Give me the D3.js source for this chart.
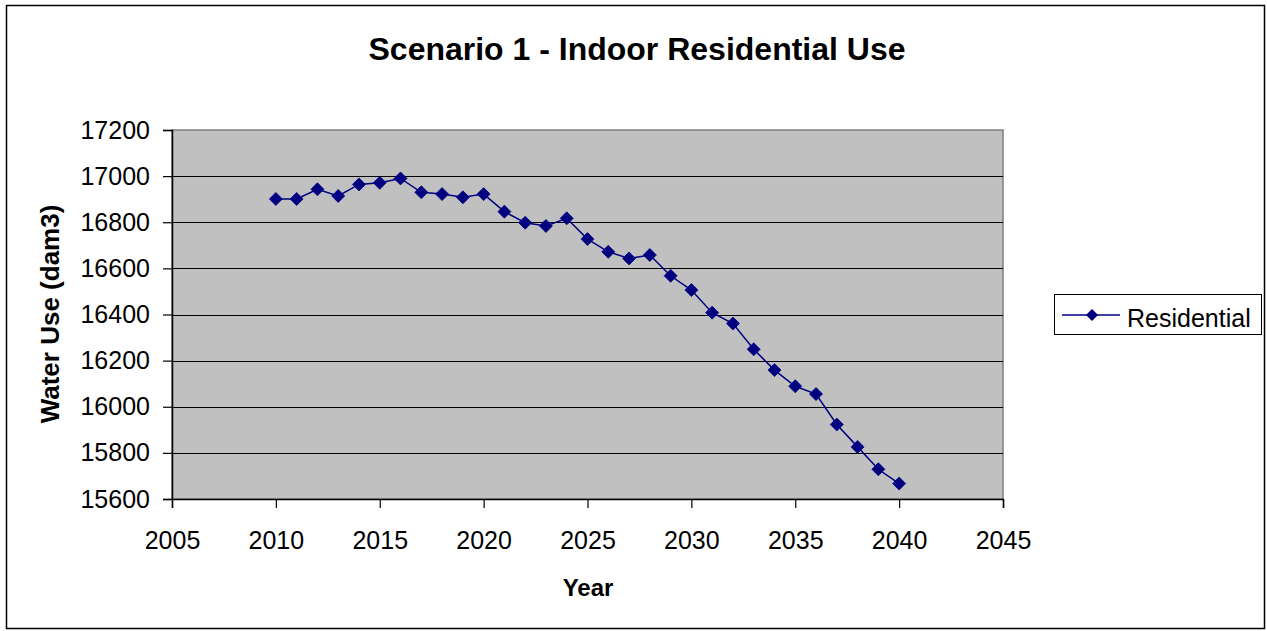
<!DOCTYPE html>
<html>
<head>
<meta charset="utf-8">
<script src="https://cdn.jsdelivr.net/npm/d3@7"></script>
<style>
  html, body { margin: 0; padding: 0; background: #fff; }
  svg { display: block; font-family: "Liberation Sans", Arial, sans-serif; }
</style>
</head>
<body>
<svg id="chart" width="1267" height="631"></svg>
<script>
// Indoor residential water use by year (dam3)
const years = [2010, 2011, 2012, 2013, 2014, 2015, 2016, 2017, 2018, 2019, 2020,
  2021, 2022, 2023, 2024, 2025, 2026, 2027, 2028, 2029, 2030,
  2031, 2032, 2033, 2034, 2035, 2036, 2037, 2038, 2039, 2040];
const residential = [16901, 16901, 16943, 16914, 16964, 16971, 16990, 16930, 16922, 16908, 16922,
  16846, 16798, 16784, 16817, 16727, 16672, 16643, 16658, 16568, 16506,
  16408, 16361, 16249, 16159, 16089, 16055, 15923, 15826, 15729, 15667];
const xTicks = [2005, 2010, 2015, 2020, 2025, 2030, 2035, 2040, 2045];
const yTicks = [15600, 15800, 16000, 16200, 16400, 16600, 16800, 17000, 17200];
const seriesName = "Residential";
const titleText = "Scenario 1 - Indoor Residential Use";
const xTitle = "Year";
const yTitle = "Water Use (dam3)";

const svg = d3.select("#chart");
const plot = { left: 172, top: 130, right: 1003, bottom: 499 };
const navy = "#000080";

// outer frame
svg.append("rect").attr("x", 6.5).attr("y", 5.5).attr("width", 1258).attr("height", 623)
  .attr("fill", "#fff").attr("stroke", "#000").attr("stroke-width", 1.5);

const x = d3.scaleLinear().domain([2005, 2045]).range([plot.left, plot.right]);
const y = d3.scaleLinear().domain([15600, 17200]).range([plot.bottom, plot.top]);

// plot background
svg.append("rect").attr("x", plot.left).attr("y", plot.top)
  .attr("width", plot.right - plot.left).attr("height", plot.bottom - plot.top)
  .attr("fill", "#c0c0c0").attr("stroke", "#808080").attr("stroke-width", 1.5);

// horizontal gridlines
svg.append("g").selectAll("line").data(yTicks.slice(1, -1)).join("line")
  .attr("x1", plot.left).attr("x2", plot.right)
  .attr("y1", d => Math.round(y(d)) + 0.5).attr("y2", d => Math.round(y(d)) + 0.5)
  .attr("stroke", "#000").attr("stroke-width", 1);

// axes
const yAxis = d3.axisLeft(y).tickValues(yTicks).tickSize(9).tickPadding(13).tickFormat(d3.format("d"));
const gy = svg.append("g").attr("transform", `translate(${plot.left},0)`).call(yAxis);
const xAxis = d3.axisBottom(x).tickValues(xTicks).tickSize(9).tickPadding(23).tickFormat(d3.format("d"));
const gx = svg.append("g").attr("transform", `translate(0,${plot.bottom})`).call(xAxis);
[gx, gy].forEach(g => {
  g.attr("font-size", 25).attr("font-family", "Liberation Sans, Arial, sans-serif");
  g.select(".domain").attr("stroke", "#000").attr("stroke-width", 1.5);
  g.selectAll(".tick line").attr("stroke", "#000").attr("stroke-width", 1.2);
  g.selectAll(".tick text").attr("fill", "#000");
});

// series line
const line = d3.line().x((d, i) => x(years[i])).y(d => y(d));
svg.append("path").datum(residential).attr("d", line)
  .attr("fill", "none").attr("stroke", navy).attr("stroke-width", 1.5);

// diamond markers
const diamond = s => `M0,${-s}L${s},0L0,${s}L${-s},0Z`;
svg.append("g").selectAll("path").data(residential).join("path")
  .attr("transform", (d, i) => `translate(${x(years[i])},${y(d)})`)
  .attr("d", diamond(6.5)).attr("fill", navy).attr("stroke", navy).attr("stroke-width", 0.8);

// titles
svg.append("text").attr("x", 637).attr("y", 60).attr("text-anchor", "middle")
  .attr("font-size", 32).attr("font-weight", "bold").text(titleText);
svg.append("text").attr("x", 588).attr("y", 596).attr("text-anchor", "middle")
  .attr("font-size", 24).attr("font-weight", "bold").text(xTitle);
svg.append("text").attr("transform", `translate(59,314) rotate(-90)`)
  .attr("text-anchor", "middle").attr("font-size", 26).attr("font-weight", "bold").text(yTitle);

// legend
const lg = svg.append("g");
lg.append("rect").attr("x", 1054.5).attr("y", 294.5).attr("width", 207).attr("height", 40)
  .attr("fill", "#fff").attr("stroke", "#000").attr("stroke-width", 1);
lg.append("line").attr("x1", 1062).attr("x2", 1120).attr("y1", 315).attr("y2", 315)
  .attr("stroke", navy).attr("stroke-width", 1.5);
lg.append("path").attr("transform", "translate(1092,315)").attr("d", diamond(6))
  .attr("fill", navy);
lg.append("text").attr("x", 1127).attr("y", 327).attr("font-size", 25).text(seriesName);
</script>
</body>
</html>
